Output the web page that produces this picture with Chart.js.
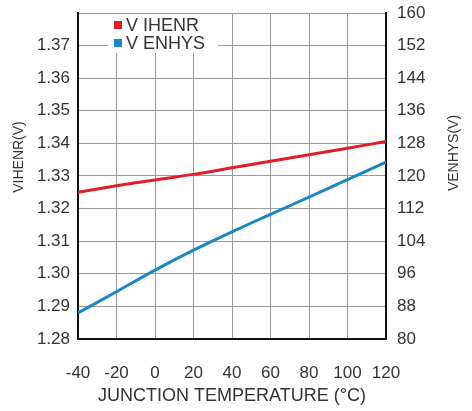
<!DOCTYPE html>
<html>
<head>
<meta charset="utf-8">
<script src="https://cdn.jsdelivr.net/npm/chart.js@4/dist/chart.umd.min.js"></script>
<style>
  html, body { margin: 0; padding: 0; background: #fff; }
  #wrap { width: 472px; height: 411px; }
</style>
</head>
<body>
<div id="wrap"><canvas id="chart" width="472" height="411"></canvas></div>
<script>
// Junction temperature (°C)
const temps = [-40, -20, 0, 20, 40, 60, 80, 100, 120];
// V IHENR on the left axis (V)
const vIhenr = [1.325, 1.327, 1.3288, 1.3305, 1.3325, 1.3345, 1.3365, 1.3385, 1.3406];
// V ENHYS on the right axis
const vEnhys = [86.4, 91.6, 96.9, 101.8, 106.3, 110.6, 114.8, 119.1, 123.4];

const leftMin = 1.28, leftMax = 1.38, leftStep = 0.01;
const rightMin = 80, rightMax = 160, rightStep = 8;

const FONT = 'Liberation Sans, Arial, sans-serif';
const TXT = '#333';

// legend inside the plot on a white patch, plus the two rotated axis titles
const extras = {
  id: 'extras',
  afterDatasetsDraw(chart) {
    const ctx = chart.ctx;
    const a = chart.chartArea;
    ctx.save();
    ctx.fillStyle = '#fff';
    ctx.fillRect(a.left + 30, a.top + 1, 110, 39);
    ctx.font = '18px ' + FONT;
    ctx.textBaseline = 'middle';
    chart.data.datasets.forEach((ds, i) => {
      const y = a.top + 12 + i * 18;
      ctx.fillStyle = ds.borderColor;
      ctx.fillRect(a.left + 36, y - 4, 8, 8);
      ctx.fillStyle = TXT;
      ctx.fillText(ds.label, a.left + 48, y + 1);
    });

    ctx.font = '14px ' + FONT;
    ctx.textAlign = 'center';
    ctx.fillStyle = TXT;
    [['VIHENR(V)', 19, 157], ['VENHYS(V)', 454, 153]].forEach(([t, x, y]) => {
      ctx.save();
      ctx.translate(x, y);
      ctx.rotate(-Math.PI / 2);
      ctx.fillText(t, 0, 0);
      ctx.restore();
    });
    ctx.restore();
  }
};

function fixY(width) {
  return s => { s.width = width; s.paddingTop = 13; s.paddingBottom = 0; };
}

new Chart(document.getElementById('chart'), {
  type: 'line',
  data: {
    datasets: [
      {
        label: 'V IHENR',
        data: temps.map((t, i) => ({ x: t, y: vIhenr[i] })),
        borderColor: '#e01e26',
        borderWidth: 3,
        pointRadius: 0,
        tension: 0.3,
        yAxisID: 'y'
      },
      {
        label: 'V ENHYS',
        data: temps.map((t, i) => ({ x: t, y: vEnhys[i] })),
        borderColor: '#1a86c4',
        borderWidth: 3,
        pointRadius: 0,
        tension: 0.3,
        yAxisID: 'y2'
      }
    ]
  },
  options: {
    responsive: false,
    animation: false,
    layout: { padding: 0 },
    plugins: { legend: { display: false }, tooltip: { enabled: false } },
    scales: {
      x: {
        type: 'linear',
        min: -40, max: 120,
        ticks: { stepSize: 20, padding: 24, color: TXT, font: { family: FONT, size: 17 } },
        grid: { color: '#9a9a9a', lineWidth: 1, drawTicks: false },
        border: { color: '#111', width: 2 },
        title: { display: true, text: 'JUNCTION TEMPERATURE (°C)', color: TXT, font: { family: FONT, size: 18 }, padding: { top: 0 } },
        afterFit(s) { s.height = 72; }
      },
      y: {
        position: 'left',
        min: leftMin, max: leftMax,
        ticks: {
          stepSize: leftStep, padding: 8, color: TXT, font: { family: FONT, size: 17 },
          callback: v => Math.abs(v - leftMax) < 1e-6 ? '' : v.toFixed(2)
        },
        grid: { color: '#9a9a9a', lineWidth: 1, drawTicks: false },
        border: { color: '#111', width: 2 },
        afterFit: fixY(78)
      },
      y2: {
        position: 'right',
        min: rightMin, max: rightMax,
        ticks: { stepSize: rightStep, padding: 11, color: TXT, font: { family: FONT, size: 17 } },
        grid: { display: false, drawTicks: false },
        border: { color: '#111', width: 2 },
        afterFit: fixY(86)
      }
    }
  },
  plugins: [extras]
});
</script>
</body>
</html>
